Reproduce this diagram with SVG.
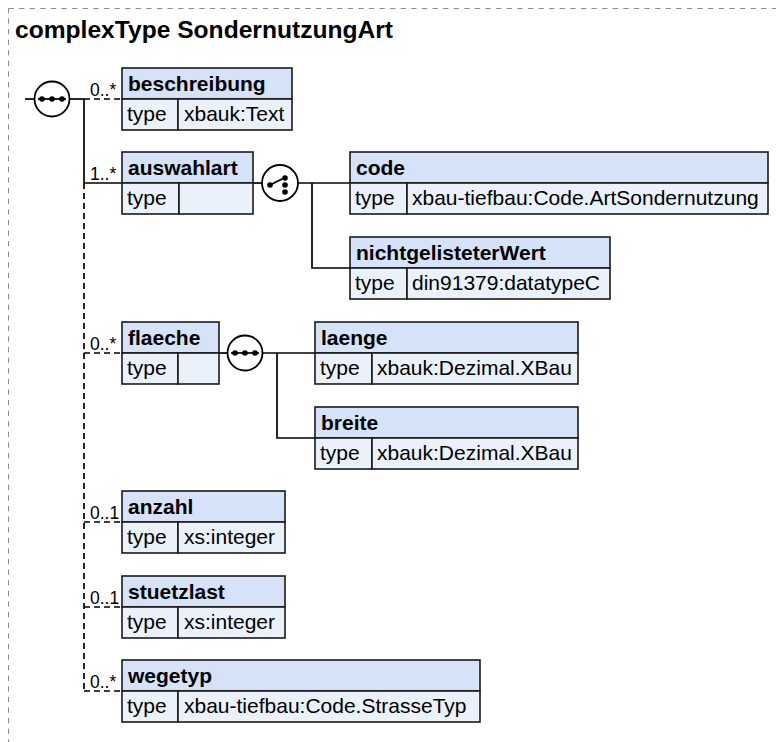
<svg xmlns="http://www.w3.org/2000/svg" width="776" height="742" viewBox="0 0 776 742">
<style>
.frame{fill:none;stroke:#8a8a8a;stroke-width:1;stroke-dasharray:5.3 5.3}
.title{font-family:"Liberation Sans",Arial,sans-serif;font-weight:bold;font-size:24.6px;fill:#000}
.hd{fill:#d5e2f7;stroke:#1a1a1a;stroke-width:1.6}
.rw{fill:#eaf1fb;stroke:#1a1a1a;stroke-width:1.6}
.lbl{font-family:"Liberation Sans",Arial,sans-serif;font-weight:bold;font-size:21px;fill:#000}
.txt{font-family:"Liberation Sans",Arial,sans-serif;font-size:21px;fill:#000}
.card{font-family:"Liberation Sans",Arial,sans-serif;font-size:17.5px;fill:#000}
.ln{fill:none;stroke:#000;stroke-width:1.7}
.dl{fill:none;stroke:#000;stroke-width:1.7;stroke-dasharray:6 4}
.sym{fill:#fff;stroke:#000;stroke-width:1.8}
.dot{fill:#000}
</style>
<rect class="frame" x="8.5" y="8.5" width="820" height="820"/>
<text class="title" x="15" y="38">complexType SondernutzungArt</text>

<g id="connectors">
  <line class="ln" x1="25" y1="99" x2="35" y2="99"/>
  <line class="ln" x1="69" y1="99" x2="84" y2="99"/>
  <line class="ln" x1="84" y1="99" x2="84" y2="183"/>
  <line class="dl" x1="84" y1="183" x2="84" y2="691"/>
  <line class="dl" x1="84" y1="99" x2="122" y2="99"/>
  <line class="ln" x1="84" y1="183" x2="122" y2="183"/>
  <line class="dl" x1="84" y1="353" x2="122" y2="353"/>
  <line class="dl" x1="84" y1="522" x2="122" y2="522"/>
  <line class="dl" x1="84" y1="607" x2="122" y2="607"/>
  <line class="dl" x1="84" y1="691" x2="122" y2="691"/>
  <text class="card" x="90" y="96">0..*</text>
  <text class="card" x="90" y="180">1..*</text>
  <text class="card" x="90" y="350">0..*</text>
  <text class="card" x="90" y="519">0..1</text>
  <text class="card" x="90" y="604">0..1</text>
  <text class="card" x="90" y="688">0..*</text>
  <line class="ln" x1="253" y1="183" x2="262" y2="183"/>
  <line class="ln" x1="298" y1="183" x2="350" y2="183"/>
  <polyline class="ln" points="312,183 312,268 350,268"/>
  <line class="ln" x1="219" y1="353" x2="228" y2="353"/>
  <line class="ln" x1="262" y1="353" x2="315" y2="353"/>
  <polyline class="ln" points="277,353 277,438 315,438"/>
</g>

<g id="seq1">
  <circle class="sym" cx="52" cy="99" r="17.5"/>
  <line class="ln" x1="38" y1="99" x2="66" y2="99"/>
  <circle class="dot" cx="42" cy="99" r="2.8"/>
  <circle class="dot" cx="52" cy="99" r="2.8"/>
  <circle class="dot" cx="62" cy="99" r="2.8"/>
</g>

<g id="choice1">
  <circle class="sym" cx="280" cy="183" r="18"/>
  <line class="ln" x1="270" y1="185" x2="284" y2="178"/>
  <circle class="dot" cx="270" cy="185" r="2.8"/>
  <circle class="dot" cx="285" cy="178" r="2.8"/>
  <circle class="dot" cx="285" cy="185" r="2.8"/>
  <circle class="dot" cx="285" cy="192" r="2.8"/>
</g>

<g id="seq2">
  <circle class="sym" cx="245" cy="353" r="17.5"/>
  <line class="ln" x1="231" y1="353" x2="259" y2="353"/>
  <circle class="dot" cx="235" cy="353" r="2.8"/>
  <circle class="dot" cx="245" cy="353" r="2.8"/>
  <circle class="dot" cx="255" cy="353" r="2.8"/>
</g>

<g id="beschreibung">
  <rect class="hd" x="122" y="68" width="170" height="31"/>
  <rect class="rw" x="122" y="99" width="56" height="31"/>
  <rect class="rw" x="178" y="99" width="114" height="31"/>
  <text class="lbl" x="128" y="91">beschreibung</text>
  <text class="txt" x="127" y="121">type</text>
  <text class="txt" x="184" y="121">xbauk:Text</text>
</g>

<g id="auswahlart">
  <rect class="hd" x="122" y="152" width="131" height="31"/>
  <rect class="rw" x="122" y="183" width="57" height="31"/>
  <rect class="rw" x="179" y="183" width="74" height="31"/>
  <text class="lbl" x="128" y="175">auswahlart</text>
  <text class="txt" x="127" y="205">type</text>
</g>

<g id="code">
  <rect class="hd" x="350" y="152" width="418" height="31"/>
  <rect class="rw" x="350" y="183" width="57" height="31"/>
  <rect class="rw" x="407" y="183" width="361" height="31"/>
  <text class="lbl" x="356" y="175">code</text>
  <text class="txt" x="355" y="205">type</text>
  <text class="txt" x="412" y="205">xbau-tiefbau:Code.ArtSondernutzung</text>
</g>

<g id="nichtgelisteterWert">
  <rect class="hd" x="350" y="237" width="260" height="31"/>
  <rect class="rw" x="350" y="268" width="57" height="31"/>
  <rect class="rw" x="407" y="268" width="203" height="31"/>
  <text class="lbl" x="356" y="260">nichtgelisteterWert</text>
  <text class="txt" x="355" y="290">type</text>
  <text class="txt" x="412" y="290">din91379:datatypeC</text>
</g>

<g id="flaeche">
  <rect class="hd" x="122" y="322" width="97" height="31"/>
  <rect class="rw" x="122" y="353" width="56" height="31"/>
  <rect class="rw" x="178" y="353" width="41" height="31"/>
  <text class="lbl" x="128" y="345">flaeche</text>
  <text class="txt" x="127" y="375">type</text>
</g>

<g id="laenge">
  <rect class="hd" x="315" y="322" width="263" height="31"/>
  <rect class="rw" x="315" y="353" width="57" height="31"/>
  <rect class="rw" x="372" y="353" width="206" height="31"/>
  <text class="lbl" x="321" y="345">laenge</text>
  <text class="txt" x="320" y="375">type</text>
  <text class="txt" x="377" y="375">xbauk:Dezimal.XBau</text>
</g>

<g id="breite">
  <rect class="hd" x="315" y="407" width="263" height="31"/>
  <rect class="rw" x="315" y="438" width="57" height="31"/>
  <rect class="rw" x="372" y="438" width="206" height="31"/>
  <text class="lbl" x="321" y="430">breite</text>
  <text class="txt" x="320" y="460">type</text>
  <text class="txt" x="377" y="460">xbauk:Dezimal.XBau</text>
</g>

<g id="anzahl">
  <rect class="hd" x="122" y="491" width="163" height="31"/>
  <rect class="rw" x="122" y="522" width="56" height="31"/>
  <rect class="rw" x="178" y="522" width="107" height="31"/>
  <text class="lbl" x="128" y="514">anzahl</text>
  <text class="txt" x="127" y="544">type</text>
  <text class="txt" x="184" y="544">xs:integer</text>
</g>

<g id="stuetzlast">
  <rect class="hd" x="122" y="576" width="163" height="31"/>
  <rect class="rw" x="122" y="607" width="56" height="31"/>
  <rect class="rw" x="178" y="607" width="107" height="31"/>
  <text class="lbl" x="128" y="599">stuetzlast</text>
  <text class="txt" x="127" y="629">type</text>
  <text class="txt" x="184" y="629">xs:integer</text>
</g>

<g id="wegetyp">
  <rect class="hd" x="122" y="660" width="358" height="31"/>
  <rect class="rw" x="122" y="691" width="56" height="31"/>
  <rect class="rw" x="178" y="691" width="302" height="31"/>
  <text class="lbl" x="128" y="683">wegetyp</text>
  <text class="txt" x="127" y="713">type</text>
  <text class="txt" x="184" y="713">xbau-tiefbau:Code.StrasseTyp</text>
</g>
</svg>
